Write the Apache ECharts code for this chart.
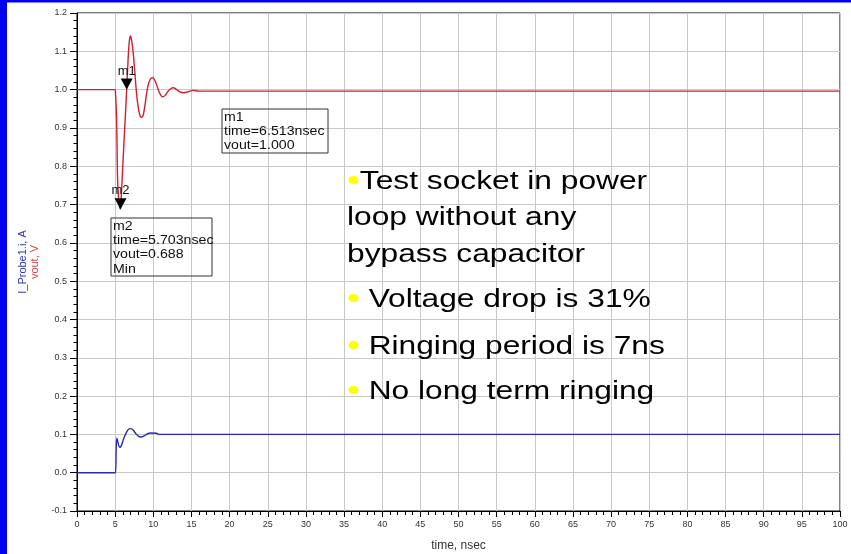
<!DOCTYPE html>
<html>
<head>
<meta charset="utf-8">
<script src="https://cdn.jsdelivr.net/npm/echarts@6/dist/echarts.min.js"></script>
<style>html,body{margin:0;padding:0;background:#fff;}#c{width:851px;height:554px;}</style>
</head>
<body>
<div id="c"></div>
<script>
// ---- data ----
var voutTime = [0, 5.0, 5.05, 5.2, 5.3, 5.45, 5.6, 5.703, 5.8, 5.9, 6.05, 6.2, 6.35, 6.513, 6.7, 6.85, 7.0, 7.15, 7.35, 7.6, 7.85, 8.1, 8.3, 8.5, 8.7, 8.95, 9.25, 9.6, 9.95, 10.3, 10.7, 11.0, 11.25, 11.55, 11.9, 12.3, 12.65, 13.0, 13.4, 13.97, 14.5, 15.2, 16.0, 100];
var voutValue = [1.0, 1.0, 0.99, 0.92, 0.78, 0.715, 0.692, 0.688, 0.72, 0.76, 0.82, 0.88, 0.935, 1.0, 1.08, 1.125, 1.14, 1.13, 1.10, 1.04, 0.98, 0.945, 0.93, 0.928, 0.935, 0.965, 1.005, 1.027, 1.031, 1.02, 0.997, 0.985, 0.981, 0.985, 0.995, 1.003, 1.005, 1.001, 0.995, 0.992, 0.994, 0.998, 0.996, 0.996];
var iTime = [0, 5.05, 5.12, 5.2, 5.3, 5.45, 5.6, 5.8, 6.1, 6.5, 6.8, 7.1, 7.4, 7.8, 8.1, 8.4, 8.8, 9.2, 9.6, 10.4, 10.8, 100];
var iValue = [0, 0, 0.05, 0.09, 0.085, 0.072, 0.066, 0.07, 0.088, 0.106, 0.114, 0.115, 0.11, 0.1, 0.095, 0.093, 0.096, 0.101, 0.1035, 0.103, 0.1, 0.1];
var markerNames = ['m1', 'm2'];
var markerTime = [6.513, 5.703];
var markerValue = [1.000, 0.688];
var markerBoxText = [
  'm1\ntime=6.513nsec\nvout=1.000',
  'm2\ntime=5.703nsec\nvout=0.688\nMin'
];
var noteLines = ['Test socket in power', 'loop without any', 'bypass capacitor', ' Voltage drop is 31%', ' Ringing period is 7ns', ' No long term ringing'];
var noteBullet = [true, false, false, true, true, true];
var xTicks = {min: 0, max: 100, interval: 5};
var yTicks = {min: -0.1, max: 1.2, interval: 0.1};

// ---- build ----
function zip(a, b) { return a.map(function (v, i) { return [v, b[i]]; }); }
var FONT = "Arial, 'Liberation Sans', sans-serif";
var chart = echarts.init(document.getElementById('c'), null, {renderer: 'canvas'});

var noteY = [182, 218, 255, 300, 347, 392];
var graphics = [
  {type: 'rect', shape: {x: 0, y: 0, width: 7, height: 554}, style: {fill: '#0000f0'}, silent: true},
  {type: 'rect', shape: {x: 0, y: 0, width: 851, height: 2.5}, style: {fill: '#0000f0'}, silent: true}
];
var boxes = [[222, 109, 106, 44], [111, 218, 101, 58]];
markerBoxText.forEach(function (t, i) {
  var b = boxes[i];
  graphics.push({type: 'rect', shape: {x: b[0], y: b[1], width: b[2], height: b[3]}, style: {fill: 'rgba(255,255,255,0)', stroke: '#333', lineWidth: 1}, z: 10});
  graphics.push({type: 'text', x: b[0] + 2, y: b[1] + 1, scaleX: 1.05, z: 11,
    style: {text: t, font: '13.5px ' + FONT, fill: '#111', lineHeight: 14.3, verticalAlign: 'top', align: 'left'}});
});
noteLines.forEach(function (t, i) {
  graphics.push({type: 'text', x: 347, y: noteY[i], scaleX: 1.22, z: 12,
    style: {text: (noteBullet[i] ? '{b|•}' : '') + '{t|' + t + '}', verticalAlign: 'middle', align: 'left',
      rich: {b: {fontSize: 30, fontFamily: FONT, fill: '#ffff00', color: '#ffff00'}, t: {fontSize: 26, fontFamily: FONT, color: '#000'}}}});
});

var option = {
  animation: false,
  backgroundColor: '#fff',
  grid: {left: 77, right: 11, top: 13, bottom: 43, show: true, borderColor: '#000', borderWidth: 1, backgroundColor: '#fff',
    containLabel: false, outerBoundsMode: 'none'},
  xAxis: {
    type: 'value', min: xTicks.min, max: xTicks.max, interval: xTicks.interval,
    name: 'time, nsec', nameLocation: 'middle', nameGap: 29,
    nameTextStyle: {fontFamily: FONT, fontSize: 12, color: '#333'},
    axisLine: {onZero: false, lineStyle: {color: '#000', width: 1}},
    axisTick: {length: 6, lineStyle: {color: '#000'}},
    minorTick: {show: true, splitNumber: 5, length: 4, lineStyle: {color: '#000'}},
    axisLabel: {fontFamily: FONT, fontSize: 9, color: '#333', margin: 9},
    splitLine: {show: true, lineStyle: {color: '#c8c8c8', width: 1}}
  },
  yAxis: {
    type: 'value', min: yTicks.min, max: yTicks.max, interval: yTicks.interval,
    name: '{b|I_Probe1.i, A}\n{r|vout, V}', nameLocation: 'middle', nameGap: 36, nameRotate: 90,
    nameTextStyle: {rich: {
      b: {fontFamily: FONT, fontSize: 11, color: '#3333c0', lineHeight: 12},
      r: {fontFamily: FONT, fontSize: 11, color: '#d04848', lineHeight: 12}
    }},
    axisLine: {show: true, onZero: false, lineStyle: {color: '#000', width: 1}},
    axisTick: {show: true, length: 7, lineStyle: {color: '#000'}},
    minorTick: {show: true, splitNumber: 5, length: 3.5, lineStyle: {color: '#000'}},
    axisLabel: {fontFamily: FONT, fontSize: 9, color: '#333', margin: 10, formatter: function (v) { return v.toFixed(1); }},
    splitLine: {show: true, lineStyle: {color: '#c8c8c8', width: 1}}
  },
  series: [
    {
      name: 'I_Probe1.i', type: 'line', data: zip(iTime, iValue), showSymbol: false, smooth: 0.25,
      lineStyle: {color: '#2a2ab0', width: 1.4}, z: 3
    },
    {
      name: 'vout', type: 'line', data: zip(voutTime, voutValue), showSymbol: false, smooth: 0.25,
      lineStyle: {color: '#d0202c', width: 1.4}, z: 4,
      markPoint: {
        symbol: 'triangle', symbolSize: [12, 11], symbolRotate: 180, symbolOffset: [0, -5.5],
        itemStyle: {color: '#000'},
        label: {show: true, position: 'top', distance: 1, color: '#111', fontFamily: FONT, fontSize: 13,
          formatter: function (p) { return p.name; }},
        data: markerNames.map(function (n, i) { return {name: n, coord: [markerTime[i], markerValue[i]]}; })
      }
    }
  ],
  graphic: graphics
};
chart.setOption(option);
</script>
</body>
</html>
